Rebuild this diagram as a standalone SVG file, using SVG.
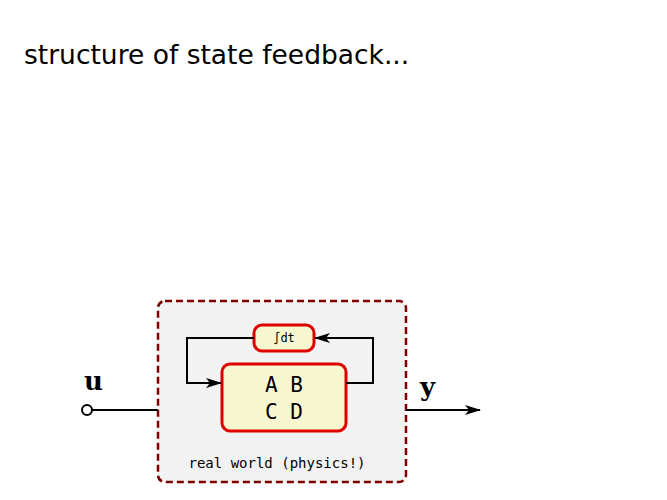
<svg xmlns="http://www.w3.org/2000/svg" width="667" height="500" viewBox="0 0 667 500">
  <style>
    .block { fill: #f8f8d0; stroke: #dd0000; stroke-width: 3; }
    .wire { fill: none; stroke: #000; stroke-width: 2; }
    .mono { font-family: "DejaVu Sans Mono", "Liberation Mono", monospace; fill: #000; text-anchor: middle; }
    .sig { font-family: "DejaVu Serif", "Liberation Serif", serif; font-weight: bold; font-size: 26px; fill: #000; }
  </style>
  <defs>
    <marker id="arrow" viewBox="0 0 16 10" refX="15" refY="5" markerWidth="16" markerHeight="10" markerUnits="userSpaceOnUse" orient="auto">
      <path d="M0,0 L16,5 L0,10 L4,5 Z" fill="#000"/>
    </marker>
  </defs>
  <rect width="667" height="500" fill="#fff"/>
  <text x="24" y="64" font-family="DejaVu Sans, Liberation Sans, sans-serif" font-size="26.5" fill="#000">structure of state feedback...</text>

  <g id="plant">
    <rect x="158" y="301" width="248" height="181" rx="7" fill="#f2f2f2" stroke="#800000" stroke-width="2.5" stroke-dasharray="7,4"/>
    <text class="mono" x="277" y="468" font-size="14">real world (physics!)</text>
  </g>

  <g id="integrator">
    <rect class="block" x="254" y="325" width="60" height="26" rx="8"/>
    <text class="mono" x="284" y="342" font-size="12">∫dt</text>
  </g>

  <g id="state-space">
    <rect class="block" x="222" y="364" width="124" height="67" rx="8"/>
    <text class="mono" x="284" y="392" font-size="21">A B</text>
    <text class="mono" x="284" y="419" font-size="21">C D</text>
  </g>

  <g id="input">
    <circle cx="87" cy="410" r="5" fill="#fff" stroke="#000" stroke-width="2"/>
    <text class="sig" x="84" y="390">u</text>
  </g>

  <g id="output">
    <text class="sig" x="420" y="396">y</text>
  </g>

  <g id="connectors">
    <line class="wire" x1="92" y1="410" x2="158" y2="410"/>
    <line class="wire" x1="406" y1="410" x2="480" y2="410" marker-end="url(#arrow)"/>
    <polyline class="wire" points="254,338 187,338 187,383 221,383" marker-end="url(#arrow)"/>
    <polyline class="wire" points="346,383 373,383 373,338 315,338" marker-end="url(#arrow)"/>
  </g>
</svg>
